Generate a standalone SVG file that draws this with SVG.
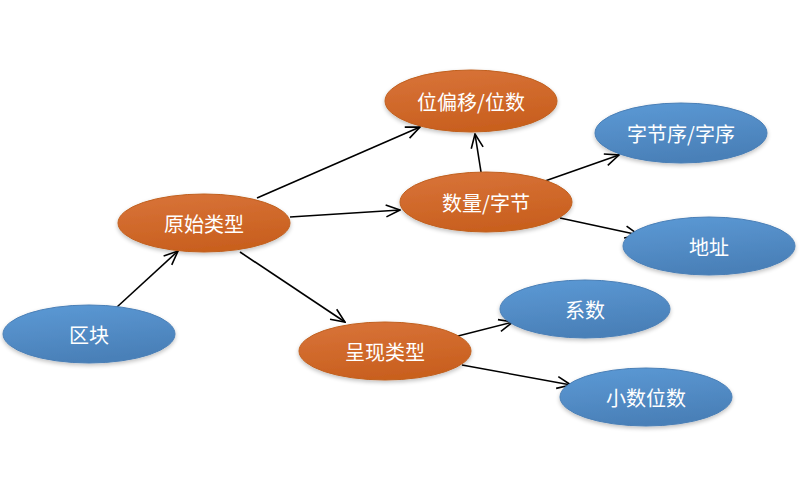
<svg xmlns="http://www.w3.org/2000/svg" width="800" height="500" viewBox="0 0 800 500">
<defs>
<linearGradient id="gOrange" x1="0" y1="0" x2="0.3" y2="1">
<stop offset="0" stop-color="#D9743A"/>
<stop offset="1" stop-color="#C9601F"/>
</linearGradient>
<linearGradient id="gBlue" x1="0" y1="0" x2="0.3" y2="1">
<stop offset="0" stop-color="#5C9AD6"/>
<stop offset="1" stop-color="#4A80B8"/>
</linearGradient>
<filter id="sh" x="-20%" y="-30%" width="140%" height="170%">
<feGaussianBlur in="SourceAlpha" stdDeviation="2"/>
<feOffset dx="0" dy="2" result="b"/>
<feComponentTransfer><feFuncA type="linear" slope="0.25"/></feComponentTransfer>
<feMerge><feMergeNode/><feMergeNode in="SourceGraphic"/></feMerge>
</filter>
<marker id="arr" viewBox="0 0 16 16" refX="15" refY="8" markerWidth="16" markerHeight="16" markerUnits="userSpaceOnUse" orient="auto">
<path d="M1,2 L15,8 L1,14" fill="none" stroke="#000" stroke-width="1.6"/>
</marker>
<style>
.o{fill:url(#gOrange);stroke:#C0601F;stroke-width:1;filter:url(#sh)}
.b{fill:url(#gBlue);stroke:#4A7FB6;stroke-width:1;filter:url(#sh)}
.t{font-family:"Noto Sans CJK SC","Noto Sans CJK JP",sans-serif;font-size:20px;fill:#fff;text-anchor:middle;dominant-baseline:central}
.e{stroke:#000;stroke-width:1.6;fill:none;marker-end:url(#arr)}
</style>
</defs>
<rect width="800" height="500" fill="#fff"/>
<g id="connectors">
<line class="e" x1="117" y1="307" x2="178" y2="251"/>
<line class="e" x1="257" y1="198" x2="420" y2="127"/>
<line class="e" x1="290" y1="217" x2="400" y2="210"/>
<line class="e" x1="240" y1="252" x2="345" y2="322"/>
<line class="e" x1="481" y1="172" x2="475" y2="134"/>
<line class="e" x1="545" y1="181" x2="619" y2="155"/>
<line class="e" x1="560" y1="218" x2="639" y2="235"/>
<line class="e" x1="458" y1="336" x2="513" y2="322"/>
<line class="e" x1="462" y1="365" x2="571" y2="385"/>
</g>
<g id="n_qukuai"><ellipse class="b" cx="89" cy="334" rx="86" ry="29"/><text class="t" x="89" y="334">区块</text></g>
<g id="n_yuanshi"><ellipse class="o" cx="204" cy="223" rx="86" ry="29"/><text class="t" x="204" y="223">原始类型</text></g>
<g id="n_weipianyi"><ellipse class="o" cx="471" cy="101" rx="86" ry="31"/><text class="t" x="471" y="101">位偏移/位数</text></g>
<g id="n_shuliang"><ellipse class="o" cx="486" cy="202" rx="86" ry="30"/><text class="t" x="486" y="202">数量/字节</text></g>
<g id="n_zijiexu"><ellipse class="b" cx="681" cy="133" rx="86" ry="30"/><text class="t" x="681" y="133">字节序/字序</text></g>
<g id="n_dizhi"><ellipse class="b" cx="709" cy="246" rx="86" ry="29"/><text class="t" x="709" y="246">地址</text></g>
<g id="n_chengxian"><ellipse class="o" cx="385" cy="351" rx="86" ry="29"/><text class="t" x="385" y="351">呈现类型</text></g>
<g id="n_xishu"><ellipse class="b" cx="585" cy="309" rx="85" ry="29"/><text class="t" x="585" y="309">系数</text></g>
<g id="n_xiaoshu"><ellipse class="b" cx="646" cy="397" rx="86" ry="29"/><text class="t" x="646" y="397">小数位数</text></g>
</svg>
